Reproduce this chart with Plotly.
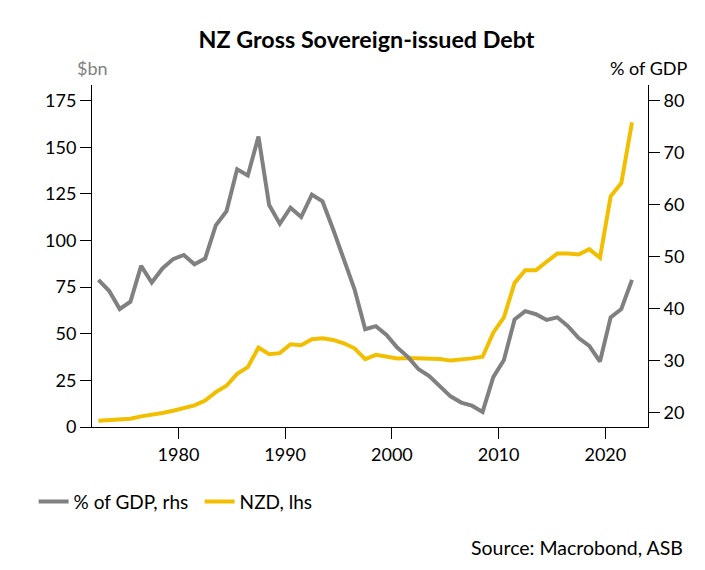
import plotly.graph_objects as go

# Fiscal years (plotted at mid-year)
years = list(range(1972, 2023))

# Gross sovereign-issued debt, % of GDP (right axis)
pct_gdp = [45.5, 43.4, 39.9, 41.3, 48.2, 45.0, 47.7, 49.5, 50.3, 48.5,
           49.6, 56.0, 58.7, 66.8, 65.6, 73.1, 59.9, 56.3, 59.4, 57.6,
           61.9, 60.6, 55.2, 49.6, 43.7, 36.0, 36.6, 34.9, 32.5, 30.7,
           28.3, 27.0, 25.0, 23.1, 21.9, 21.3, 20.1, 26.8, 30.1, 37.9,
           39.5, 38.9, 37.8, 38.3, 36.6, 34.3, 32.8, 29.8, 38.3, 39.9,
           45.5]

# Gross sovereign-issued debt, NZ$ bn (left axis)
nzd_bn = [3.4, 3.7, 3.9, 4.4, 5.7, 6.4, 7.5, 8.7, 10.2, 11.6,
          14.2, 18.7, 22.1, 28.5, 32.1, 42.6, 39.0, 39.6, 44.4, 43.9,
          47.1, 47.6, 46.7, 44.9, 42.2, 36.4, 38.7, 37.6, 36.7, 37.0,
          36.8, 36.8, 36.4, 35.6, 36.0, 36.8, 37.7, 50.6, 58.8, 77.3,
          84.1, 84.1, 88.6, 93.0, 93.0, 92.5, 95.4, 90.7, 123.7, 130.8,
          163.4]

x = [y + 0.5 for y in years]
font = "Lato, Open Sans, sans-serif"

fig = go.Figure()
fig.add_trace(go.Scatter(x=x, y=pct_gdp, name="% of GDP, rhs", mode="lines",
                         line=dict(color="#808080", width=4), yaxis="y2"))
fig.add_trace(go.Scatter(x=x, y=nzd_bn, name="NZD, lhs", mode="lines",
                         line=dict(color="#F2BF00", width=4)))

axis_style = dict(showline=True, linecolor="black", linewidth=1, ticks="outside",
                  ticklen=11, tickcolor="black", showgrid=False, zeroline=False,
                  tickfont=dict(size=18, color="black"))

fig.update_layout(
    width=705, height=570,
    margin=dict(l=84, r=65, t=77, b=151, autoexpand=False),
    paper_bgcolor="white", plot_bgcolor="white",
    font=dict(family=font, color="black"),
    title=dict(text="<b>NZ Gross Sovereign-issued Debt</b>", x=0.5085, xanchor="center",
               y=0.944, yanchor="middle", font=dict(size=23.3)),
    xaxis=dict(range=[1971.9, 2024.0], tickvals=[1980, 1990, 2000, 2010, 2020],
               **axis_style),
    yaxis=dict(range=[0, 183.4], dtick=25, **axis_style),
    yaxis2=dict(range=[17.2, 83.0], dtick=10, overlaying="y", side="right",
                **axis_style),
    showlegend=True,
    legend=dict(orientation="h", x=-0.105, xanchor="left", y=-0.218, yanchor="middle",
                font=dict(size=19), bgcolor="rgba(0,0,0,0)",
                entrywidth=121, entrywidthmode="pixels"),
    annotations=[
        dict(text="$bn", x=0, xref="paper", y=1.0, yref="paper", yshift=17,
             showarrow=False, xanchor="center", yanchor="middle",
             font=dict(size=18, color="#7f7f7f")),
        dict(text="% of GDP", x=1, xref="paper", y=1.0, yref="paper", yshift=17,
             showarrow=False, xanchor="center", yanchor="middle",
             font=dict(size=18, color="black")),
        dict(text="Source: Macrobond, ASB", x=(677 - 84) / 556, xref="paper",
             y=-0.3526, yref="paper", showarrow=False, xanchor="right", yanchor="middle",
             font=dict(size=19.5, color="black")),
    ],
)

fig.write_html("out.html")
